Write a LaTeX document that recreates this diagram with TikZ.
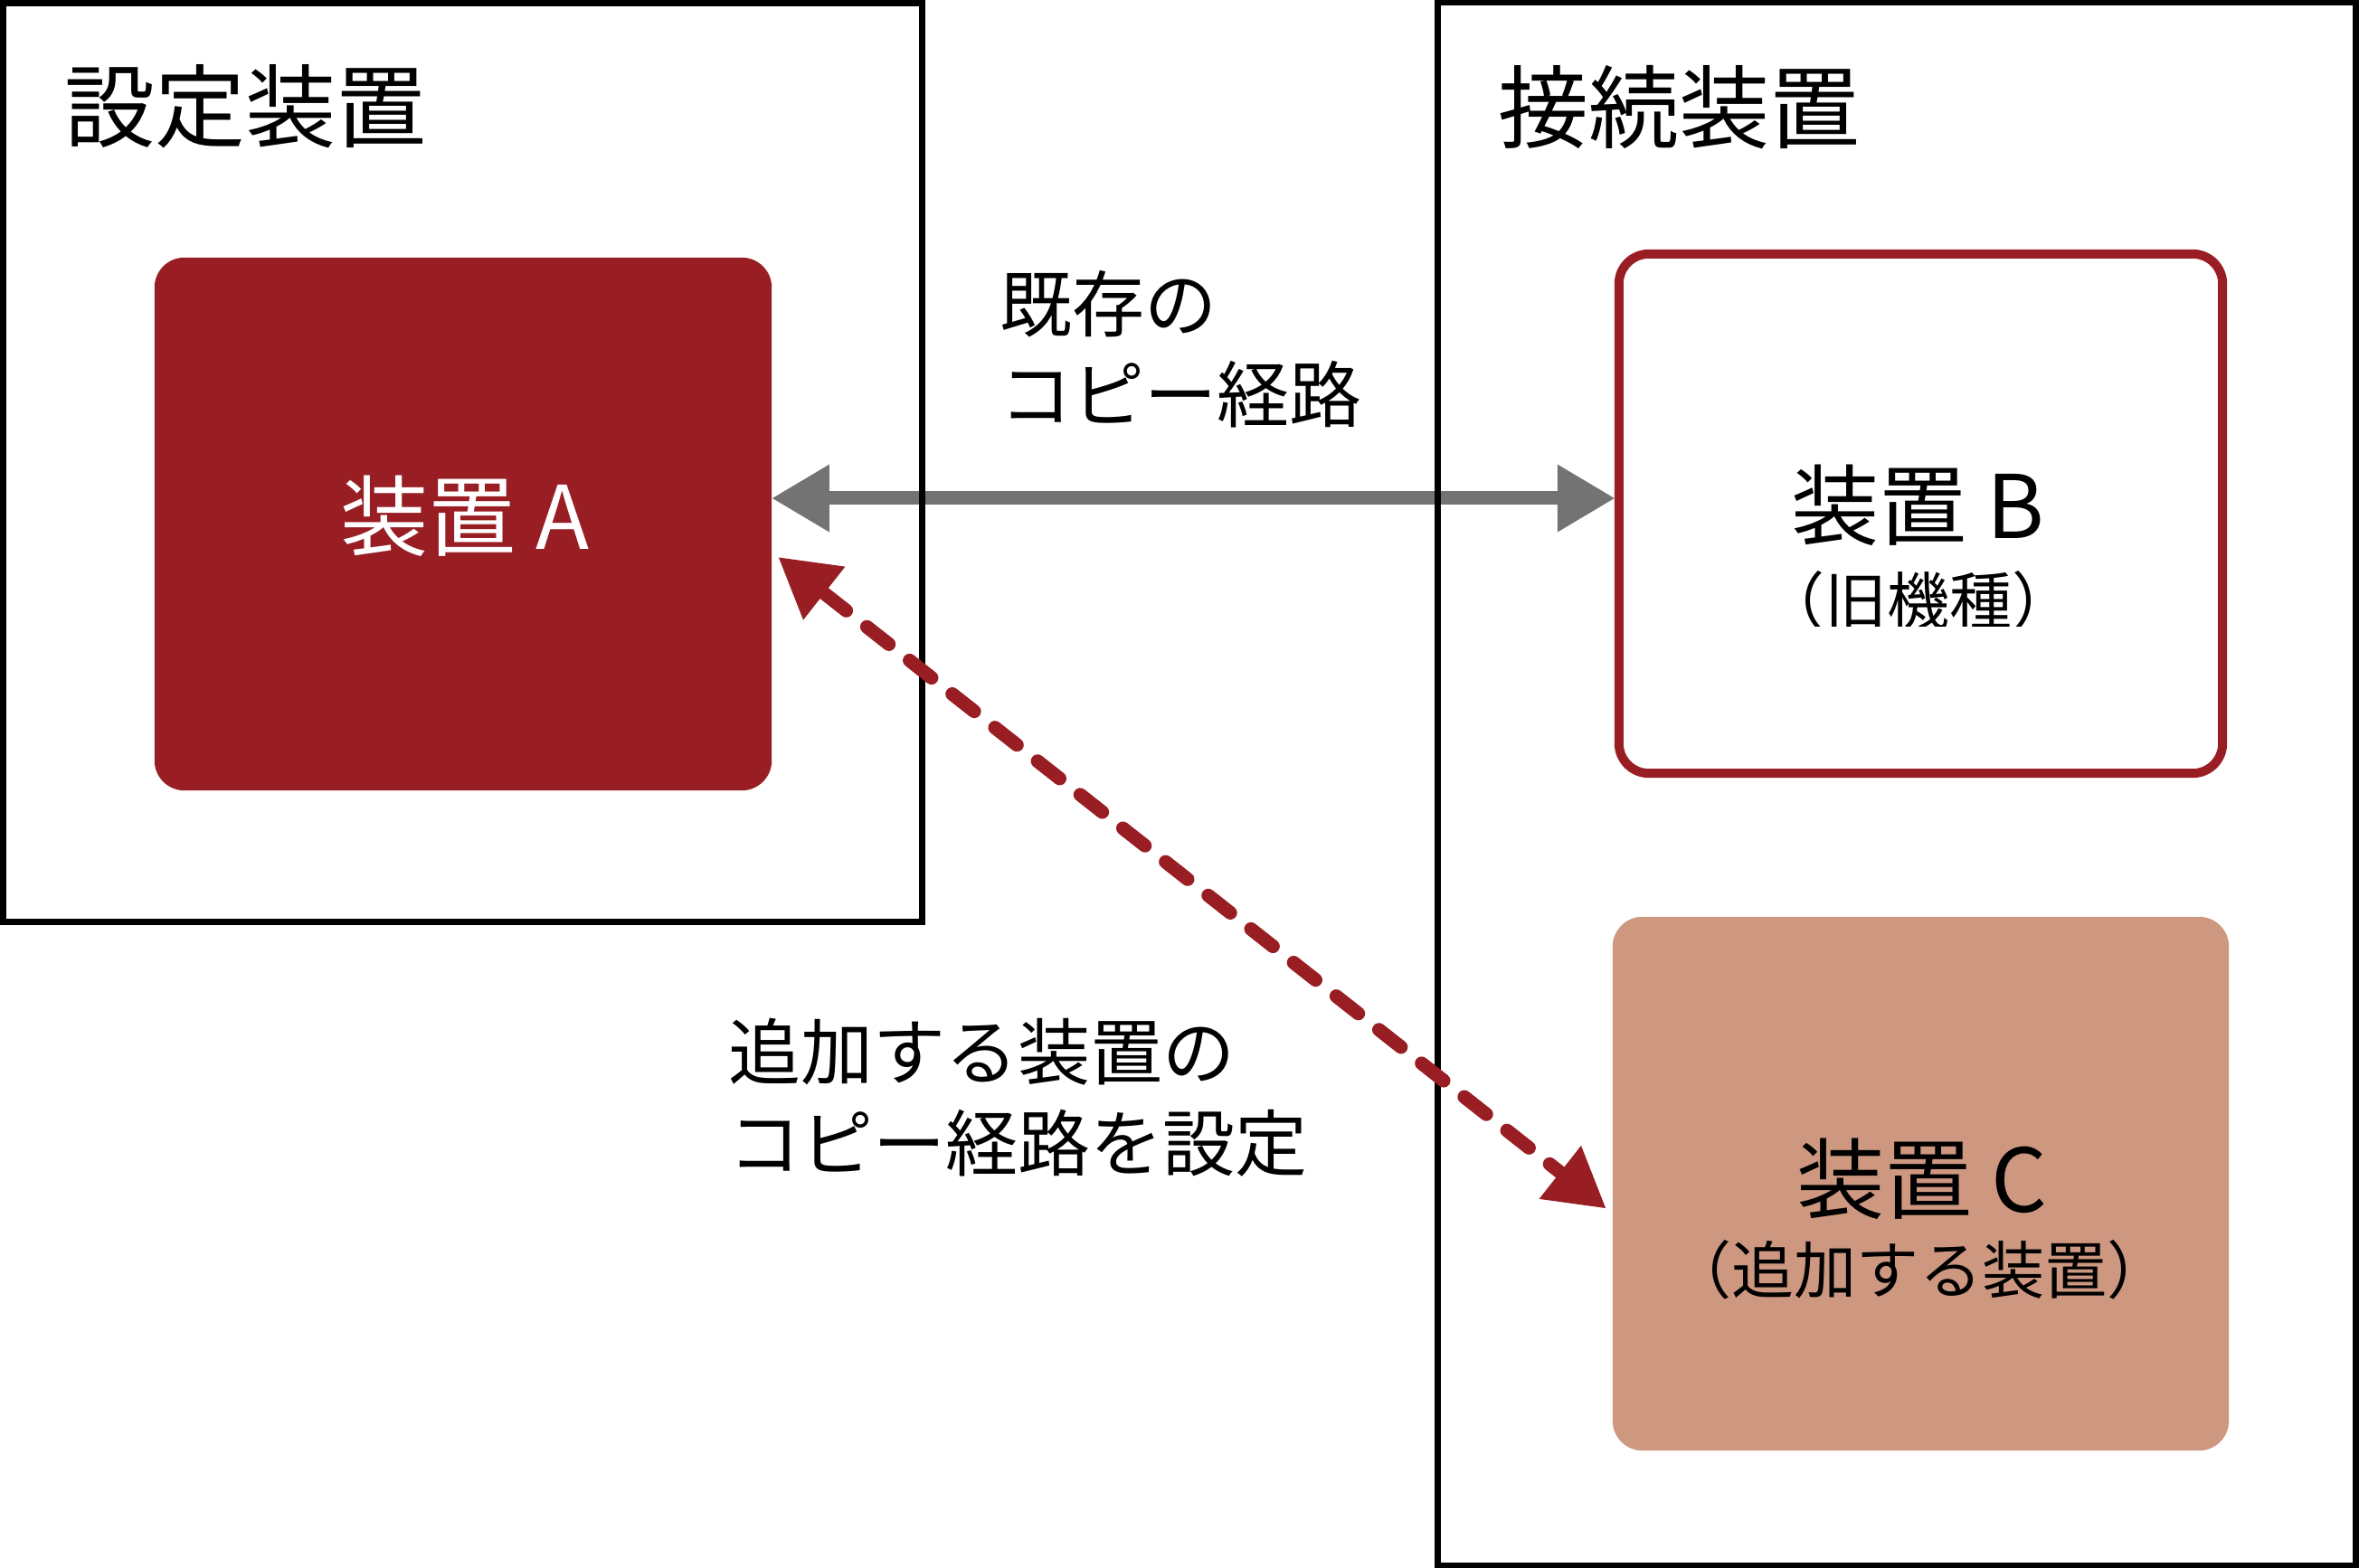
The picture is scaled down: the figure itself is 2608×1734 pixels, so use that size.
\documentclass[tikz,border=0pt]{standalone}
\usepackage{fontspec}
\setmainfont{Noto Sans CJK JP}
\usetikzlibrary{arrows.meta,calc}
\definecolor{devred}{HTML}{981E24}
\definecolor{devtan}{HTML}{CD9780}
\definecolor{pathgray}{HTML}{737373}
\tikzset{
  frame/.style={draw=black, line width=0.07cm, rectangle, inner sep=0pt},
  devbox/.style={rectangle, rounded corners=0.33cm, inner sep=0pt},
  titletext/.style={inner sep=0pt, anchor=base west, font=\fontsize{28.45pt}{34pt}\selectfont},
  boxtext/.style={inner sep=0pt, anchor=base, font=\fontsize{27.6pt}{33pt}\selectfont},
  subtext/.style={inner sep=0pt, anchor=base, font=\fontsize{19.63pt}{24pt}\selectfont},
  pathtext/.style={inner sep=0pt, anchor=base west, align=left, font=\fontsize{22.76pt}{28.45pt}\selectfont},
  oldpath/.style={draw=pathgray, line width=0.15cm,
    arrows={Triangle[length=0.63cm,width=0.75cm,line width=0pt]-Triangle[length=0.63cm,width=0.75cm,line width=0pt]}},
  newpath/.style={draw=devred, line width=0.15cm, line cap=round, dash pattern=on 0.31cm off 0.29cm,
    arrows={Triangle[length=0.64cm,width=0.75cm,line width=0pt]-Triangle[length=0.64cm,width=0.75cm,line width=0pt]}}
}
\begin{document}
\begin{tikzpicture}[x=0.01cm,y=-0.01cm]
\useasboundingbox (0,0) rectangle (2608,1734);

% device boxes
\node[devbox, fill=devred, minimum width=6.82cm, minimum height=5.89cm] (A) at (512,579.5) {};
\node[devbox, fill=white, draw=devred, line width=0.10cm, minimum width=6.67cm, minimum height=5.74cm] (B) at (2123.5,568) {};
\node[devbox, fill=devtan, minimum width=6.81cm, minimum height=5.90cm] (C) at (2123.5,1309) {};

% existing copy path
\coordinate (gy) at (0,551);
\draw[oldpath] (A.east |- gy) -- (B.west |- gy);

% frames
\node[frame, minimum width=10.16cm, minimum height=10.155cm] (setdev) at (511.5,511.25) {};
\node[frame, minimum width=10.145cm, minimum height=17.27cm] (condev) at (2097.25,867) {};

% new copy path
\draw[newpath] ($(A.east)+(7,37)$) -- ($(C.west)+(-7,27)$);

% texts
\node[titletext] (t1) at (71,156) {設定装置};
\node[titletext] (t2) at (1656,157) {接続装置};
\node[boxtext, text=white] (ta) at (514,608) {装置 A};
\node[boxtext] (tb) at (2120,596) {装置 B};
\begin{scope}
\clip (1950,610) rectangle (2300,693);
\node[subtext] (sb) at (2121,691) {（旧機種）};
\end{scope}
\node[boxtext] (tc) at (2125,1340) {装置 C};
\node[subtext] (sc) at (2122,1430) {（追加する装置）};
\node[pathtext] (l1) at (1105,467) {既存の\\コピー経路};
\node[pathtext] (l2) at (805,1294) {追加する装置の\\コピー経路を設定};
\end{tikzpicture}
\end{document}
